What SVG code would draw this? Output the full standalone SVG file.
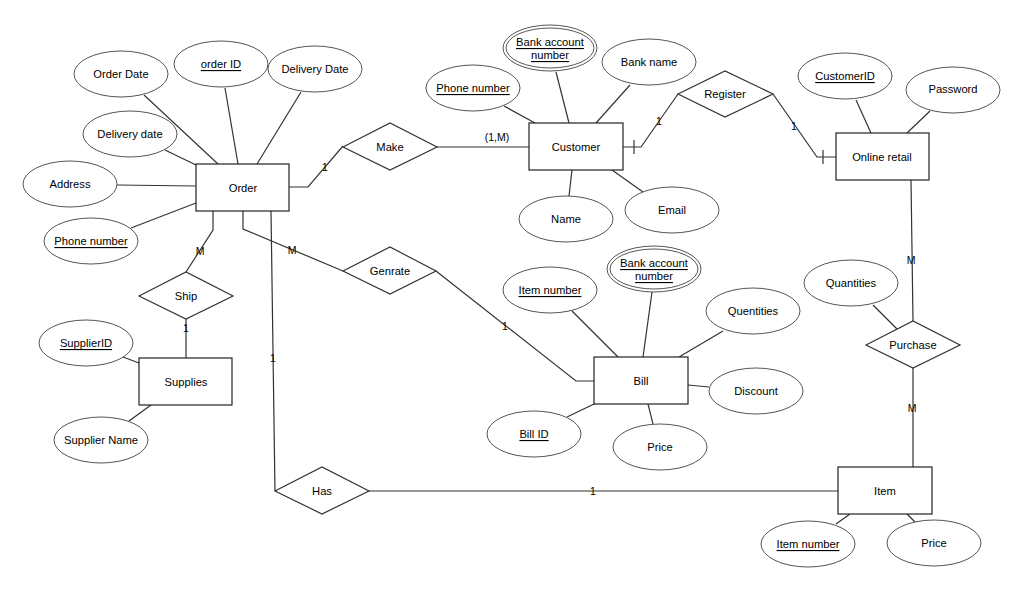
<svg xmlns="http://www.w3.org/2000/svg" width="1024" height="592" viewBox="0 0 1024 592">
<style>
.e{fill:#fff;stroke:#555;stroke-width:1}
.r{fill:#fff;stroke:#222;stroke-width:1.2}
.d{fill:#fff;stroke:#333;stroke-width:1.2}
.c{fill:none;stroke:#333;stroke-width:1.2}
text{font-family:"Liberation Sans",Arial,sans-serif;font-size:11.2px;fill:#000;text-anchor:middle;dominant-baseline:central}
.u{text-decoration:underline}
.l{font-size:10.5px}
</style>
<rect width="1024" height="592" fill="#fff"/>
<g id="connectors">
<!-- Order attributes -->
<line class="c" x1="144" y1="95" x2="218" y2="164"/>
<line class="c" x1="225" y1="88" x2="238" y2="164"/>
<line class="c" x1="301" y1="92" x2="257" y2="164"/>
<line class="c" x1="165" y1="150" x2="196" y2="165"/>
<line class="c" x1="117" y1="185" x2="196" y2="186"/>
<line class="c" x1="131" y1="228" x2="196" y2="203"/>
<!-- Order-Make-Customer -->
<polyline class="c" points="289,187 308,187 343,146"/>
<line class="c" x1="437" y1="147" x2="529" y2="147"/>
<!-- Customer attributes -->
<line class="c" x1="504" y1="106" x2="535" y2="123"/>
<line class="c" x1="556" y1="72" x2="569" y2="123"/>
<line class="c" x1="630" y1="85" x2="596" y2="123"/>
<line class="c" x1="572" y1="170" x2="569" y2="196"/>
<line class="c" x1="612" y1="170" x2="643" y2="192"/>
<!-- Customer-Register-Online retail -->
<polyline class="c" points="623,147 641,147 678,94"/>
<line class="c" x1="634" y1="140" x2="634" y2="154"/>
<polyline class="c" points="773,94 817,157 836,157"/>
<line class="c" x1="823" y1="150" x2="823" y2="164"/>
<!-- Online retail attributes -->
<line class="c" x1="856" y1="100" x2="871" y2="133"/>
<line class="c" x1="930" y1="111" x2="907" y2="133"/>
<!-- Online retail - Purchase - Item -->
<line class="c" x1="911" y1="180" x2="913" y2="321"/>
<line class="c" x1="913" y1="368" x2="913" y2="468"/>
<line class="c" x1="873" y1="305" x2="897" y2="329"/>
<!-- Item attributes -->
<line class="c" x1="836" y1="524" x2="850" y2="514"/>
<line class="c" x1="915" y1="522" x2="907" y2="514"/>
<!-- Order-Ship-Supplies -->
<polyline class="c" points="213,211 213,230 186,272"/>
<line class="c" x1="186" y1="319" x2="186" y2="358"/>
<line class="c" x1="123" y1="357" x2="139" y2="363"/>
<line class="c" x1="129" y1="421" x2="151" y2="405"/>
<!-- Order-Genrate-Bill -->
<polyline class="c" points="243,211 243,229 343,271"/>
<polyline class="c" points="436,271 576,381 594,381"/>
<!-- Order-Has-Item -->
<polyline class="c" points="271,211 275,491"/>
<line class="c" x1="369" y1="491" x2="838" y2="491"/>
<!-- Bill attributes -->
<line class="c" x1="572" y1="311" x2="618" y2="357"/>
<line class="c" x1="652" y1="292" x2="643" y2="357"/>
<line class="c" x1="723" y1="331" x2="679" y2="357"/>
<line class="c" x1="688" y1="385" x2="709" y2="387"/>
<line class="c" x1="648" y1="404" x2="653" y2="424"/>
<line class="c" x1="594" y1="404" x2="567" y2="417"/>
<!-- cardinality labels -->
<text class="l" x="325" y="167">1</text>
<text class="l" x="497" y="137">(1,M)</text>
<text class="l" x="659" y="121">1</text>
<text class="l" x="794" y="126">1</text>
<text class="l" x="911" y="260">M</text>
<text class="l" x="912" y="408">M</text>
<text class="l" x="200" y="251">M</text>
<text class="l" x="186" y="328">1</text>
<text class="l" x="292" y="250">M</text>
<text class="l" x="505" y="326">1</text>
<text class="l" x="273" y="358">1</text>
<text class="l" x="593" y="491">1</text>
</g>
<g id="order"><rect class="r" x="196" y="164" width="93" height="47"/><text x="243" y="188">Order</text></g>
<g id="order-date"><ellipse class="e" cx="121" cy="74" rx="47" ry="23"/><text x="121" y="74">Order Date</text></g>
<g id="order-id"><ellipse class="e" cx="221" cy="64" rx="47" ry="23"/><text class="u" x="221" y="64">order ID</text></g>
<g id="delivery-date-1"><ellipse class="e" cx="315" cy="69" rx="47" ry="23"/><text x="315" y="69">Delivery Date</text></g>
<g id="delivery-date-2"><ellipse class="e" cx="130" cy="134" rx="47" ry="23"/><text x="130" y="134">Delivery date</text></g>
<g id="address"><ellipse class="e" cx="70" cy="184" rx="47" ry="23"/><text x="70" y="184">Address</text></g>
<g id="order-phone"><ellipse class="e" cx="91" cy="241" rx="47" ry="23"/><text class="u" x="91" y="241">Phone number</text></g>
<g id="make"><polygon class="d" points="343,147 390,123 437,147 390,170"/><text x="390" y="147">Make</text></g>
<g id="customer"><rect class="r" x="529" y="123" width="94" height="47"/><text x="576" y="147">Customer</text></g>
<g id="cust-phone"><ellipse class="e" cx="473" cy="88" rx="47" ry="23"/><text class="u" x="473" y="88">Phone number</text></g>
<g id="cust-bank-acct"><ellipse class="e" cx="550" cy="48" rx="47" ry="23"/><ellipse class="e" cx="550" cy="48" rx="44" ry="20"/><text class="u" x="550" y="42">Bank account </text><text class="u" x="550" y="55">number </text></g>
<g id="bank-name"><ellipse class="e" cx="649" cy="62" rx="47" ry="23"/><text x="649" y="62">Bank name</text></g>
<g id="name"><ellipse class="e" cx="566" cy="219" rx="47" ry="23"/><text x="566" y="219">Name</text></g>
<g id="email"><ellipse class="e" cx="672" cy="210" rx="47" ry="23"/><text x="672" y="210">Email</text></g>
<g id="register"><polygon class="d" points="678,94 725,71 773,94 725,117"/><text x="725" y="94">Register</text></g>
<g id="online-retail"><rect class="r" x="836" y="133" width="93" height="47"/><text x="882" y="157">Online retail</text></g>
<g id="customer-id"><ellipse class="e" cx="845" cy="76" rx="47" ry="23"/><text class="u" x="845" y="76">CustomerID</text></g>
<g id="password"><ellipse class="e" cx="953" cy="90" rx="47" ry="23"/><text x="953" y="89">Password</text></g>
<g id="purchase"><polygon class="d" points="866,345 913,321 960,345 913,368"/><text x="913" y="345">Purchase</text></g>
<g id="quantities"><ellipse class="e" cx="851" cy="283" rx="47" ry="23"/><text x="851" y="283">Quantities</text></g>
<g id="item"><rect class="r" x="838" y="467" width="94" height="47"/><text x="885" y="491">Item</text></g>
<g id="item-number"><ellipse class="e" cx="808" cy="544" rx="47" ry="23"/><text class="u" x="808" y="544">Item number</text></g>
<g id="item-price"><ellipse class="e" cx="934" cy="543" rx="47" ry="23"/><text x="934" y="543">Price</text></g>
<g id="ship"><polygon class="d" points="139,296 186,272 233,296 186,319"/><text x="186" y="296">Ship</text></g>
<g id="supplies"><rect class="r" x="139" y="358" width="93" height="47"/><text x="186" y="382">Supplies</text></g>
<g id="supplier-id"><ellipse class="e" cx="86" cy="343" rx="47" ry="23"/><text class="u" x="86" y="343">SupplierID</text></g>
<g id="supplier-name"><ellipse class="e" cx="101" cy="440" rx="47" ry="23"/><text x="101" y="440">Supplier Name</text></g>
<g id="genrate"><polygon class="d" points="343,271 390,247 436,271 390,294"/><text x="390" y="271">Genrate</text></g>
<g id="has"><polygon class="d" points="275,491 322,467 369,491 322,514"/><text x="322" y="491">Has</text></g>
<g id="bill"><rect class="r" x="594" y="357" width="94" height="47"/><text x="641" y="381">Bill</text></g>
<g id="bill-item-number"><ellipse class="e" cx="550" cy="290" rx="47" ry="23"/><text class="u" x="550" y="290">Item number</text></g>
<g id="bill-bank-acct"><ellipse class="e" cx="654" cy="269" rx="47" ry="23"/><ellipse class="e" cx="654" cy="269" rx="44" ry="20"/><text class="u" x="654" y="263">Bank account </text><text class="u" x="654" y="276">number </text></g>
<g id="quentities"><ellipse class="e" cx="753" cy="311" rx="47" ry="23"/><text x="753" y="311">Quentities</text></g>
<g id="discount"><ellipse class="e" cx="756" cy="391" rx="47" ry="23"/><text x="756" y="391">Discount</text></g>
<g id="bill-price"><ellipse class="e" cx="660" cy="447" rx="47" ry="23"/><text x="660" y="447">Price</text></g>
<g id="bill-id"><ellipse class="e" cx="534" cy="434" rx="47" ry="23"/><text class="u" x="534" y="434">Bill ID</text></g>
</svg>
